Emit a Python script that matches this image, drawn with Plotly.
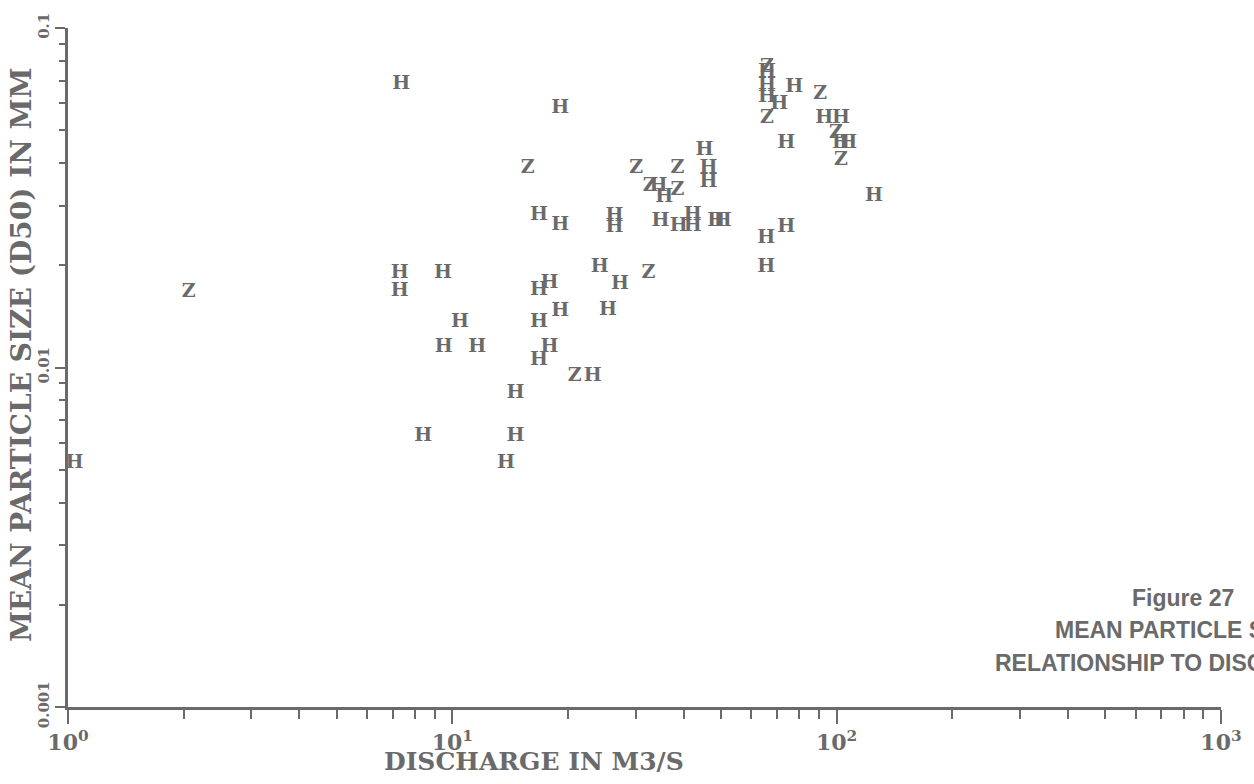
import plotly.graph_objects as go

# Discharge (m3/s) and mean particle size D50 (mm)
discharge_h = [1.04, 7.36, 7.3, 7.3, 9.46, 9.5, 10.47, 11.6, 8.4, 13.8, 14.6, 14.6,
               16.8, 19.1, 19.1, 16.8, 17.9, 16.8, 19.1, 17.9, 16.8, 23.2, 24.2, 25.4,
               26.4, 26.4, 27.3, 34.4, 35.6, 34.8, 38.8, 42.2, 42.2, 45.3, 46.4, 46.4,
               48.6, 50.5, 65.6, 65.6, 73.9, 73.9, 65.9, 65.9, 65.9, 70.9, 77.5, 92.8,
               102.6, 102.6, 107.1, 125.0]
d50_h = [0.00523, 0.0684, 0.0190, 0.0168, 0.0189, 0.0115, 0.0136, 0.0115, 0.00629, 0.00523,
         0.00841, 0.00629, 0.0281, 0.0581, 0.0263, 0.0169, 0.0177, 0.0136, 0.0146, 0.0115,
         0.0105, 0.00944, 0.0198, 0.0147, 0.0279, 0.0259, 0.0176, 0.0343, 0.0318, 0.0270,
         0.0261, 0.0261, 0.0281, 0.0437, 0.0387, 0.0352, 0.0270, 0.0270, 0.0241, 0.0198,
         0.0259, 0.0459, 0.0742, 0.0675, 0.0626, 0.0597, 0.0670, 0.0543, 0.0543, 0.0459,
         0.0459, 0.0320]

discharge_z = [2.06, 15.7, 20.8, 30.1, 32.4, 32.6, 38.5, 38.5, 65.9, 65.9, 90.6, 99.6, 102.6]
d50_z = [0.0167, 0.0387, 0.00944, 0.0387, 0.0189, 0.0343, 0.0387, 0.0333, 0.0768, 0.0543,
         0.0639, 0.0491, 0.0409]

x_tickvals = [1, 10, 100, 1000]
x_ticktext = ["10<sup>0</sup>", "10<sup>1</sup>", "10<sup>2</sup>", "10<sup>3</sup>"]
y_tickvals = [0.001, 0.01, 0.1]
y_ticktext = ["0.001", "0.01", "0.1"]

x_title = "DISCHARGE IN M3/S"
y_title = "MEAN PARTICLE SIZE (D50) IN MM"
caption_lines = ["Figure 27", "MEAN PARTICLE SIZE", "RELATIONSHIP TO DISCHARGE"]

INK = "#6a6a6a"
SERIF = "DejaVu Serif"

fig = go.Figure()
fig.add_trace(go.Scatter(
    x=discharge_h, y=d50_h, mode="text", text=["H"] * len(discharge_h),
    textposition="middle center",
    textfont=dict(family=SERIF, size=19, color=INK, weight="bold"),
    showlegend=False, hoverinfo="skip"))
fig.add_trace(go.Scatter(
    x=discharge_z, y=d50_z, mode="text", text=["Z"] * len(discharge_z),
    textposition="middle center",
    textfont=dict(family=SERIF, size=19, color=INK, weight="bold"),
    showlegend=False, hoverinfo="skip"))

minor_x = [m * 10 ** e for e in range(0, 3) for m in range(2, 10)]
minor_y = [m * 10 ** e for e in (-3, -2) for m in range(2, 10)]

fig.update_xaxes(
    type="log", range=[0, 3], showgrid=False, zeroline=False,
    showline=True, linecolor=INK, linewidth=3,
    tickmode="array", tickvals=x_tickvals, ticktext=x_ticktext,
    ticks="outside", ticklen=14, tickwidth=2, tickcolor=INK,
    tickfont=dict(family=SERIF, size=22, color=INK, weight="bold"),
    minor=dict(tickmode="array", tickvals=minor_x, ticks="outside", ticklen=9,
               tickwidth=2, tickcolor=INK, showgrid=False),
)
fig.update_yaxes(
    type="log", range=[-3, -1], showgrid=False, zeroline=False,
    showline=True, linecolor=INK, linewidth=3,
    tickmode="array", tickvals=y_tickvals, ticktext=y_ticktext,
    ticks="outside", ticklen=10, tickwidth=2, tickcolor=INK, tickangle=-90,
    tickfont=dict(family=SERIF, size=15, color=INK, weight="bold"),
    minor=dict(tickmode="array", tickvals=minor_y, ticks="outside", ticklen=6,
               tickwidth=2, tickcolor=INK, showgrid=False),
)

# axis titles (the x title sits left of the plot centre in the reference)
fig.add_annotation(
    text=x_title, xref="paper", yref="paper",
    x=(535 - 68) / (1224 - 68), y=(707 - 761) / (707 - 28),
    xanchor="center", yanchor="middle", showarrow=False,
    font=dict(family=SERIF, size=25, color=INK, weight="bold"))
fig.add_annotation(
    text=y_title, xref="paper", yref="paper", textangle=-90,
    x=(22 - 68) / (1224 - 68), y=(707 - 355) / (707 - 28),
    xanchor="center", yanchor="middle", showarrow=False,
    font=dict(family=SERIF, size=28, color=INK, weight="bold"))

for line, xa, ya in zip(caption_lines, [1133, 1056, 995], [598, 630, 663]):
    fig.add_annotation(
        text=line, xref="paper", yref="paper",
        x=(xa - 68) / (1224 - 68), y=(707 - ya) / (707 - 28),
        xanchor="left", yanchor="middle", showarrow=False,
        font=dict(family="Liberation Sans", size=23, color=INK, weight="bold"))

fig.update_layout(
    width=1254, height=784,
    margin=dict(l=68, r=30, t=28, b=77),
    paper_bgcolor="white", plot_bgcolor="white",
)

fig.write_html("out.html")
